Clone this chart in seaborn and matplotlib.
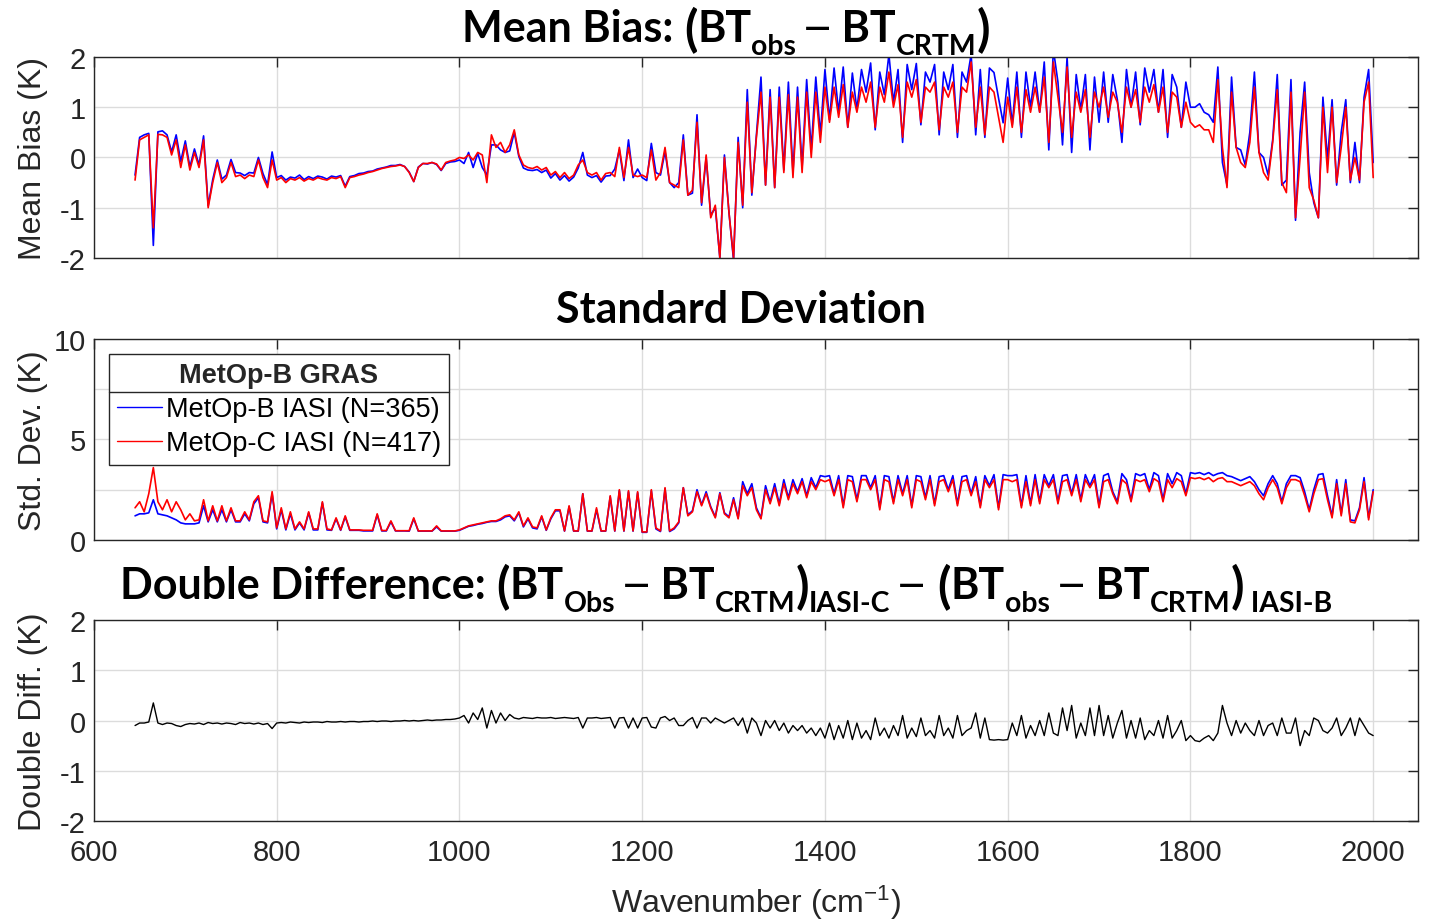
import numpy as np
import pandas as pd
import matplotlib
matplotlib.use('Agg')
import matplotlib.pyplot as plt
import seaborn as sns
from matplotlib.lines import Line2D

sns.set_theme(style='white')
plt.rcParams['font.family'] = ['Liberation Sans', 'DejaVu Sans']
plt.rcParams['axes.unicode_minus'] = False
plt.rcParams['mathtext.fontset'] = 'custom'
plt.rcParams['mathtext.rm'] = 'Liberation Sans'
plt.rcParams['mathtext.it'] = 'Liberation Sans:italic'
plt.rcParams['mathtext.bf'] = 'Liberation Sans:bold'

TITLE_FONT = 'Lato'
INK = '#262626'

# --- data: one value every 5 cm-1 from 645 to 2000 cm-1 ---
wavenumber = np.arange(645, 2001, 5)

# mean bias of MetOp-C IASI (K)
bias_c = [
    -0.45, 0.35, 0.40, 0.45, -1.40, 0.46, 0.45, 0.40, 0.05, 0.35,      # 645
    -0.20, 0.25, -0.25, 0.10, -0.20, 0.35, -1.00, -0.50, -0.10, -0.50,  # 695
    -0.40, -0.10, -0.38, -0.35, -0.42, -0.35, -0.38, -0.05, -0.40, -0.60,  # 745
    -0.05, -0.45, -0.40, -0.50, -0.42, -0.45, -0.40, -0.47, -0.42, -0.45,  # 795
    -0.40, -0.43, -0.45, -0.40, -0.42, -0.38, -0.60, -0.40, -0.38, -0.35,  # 845
    -0.33, -0.30, -0.28, -0.25, -0.22, -0.20, -0.18, -0.17, -0.15, -0.18,  # 895
    -0.30, -0.48, -0.20, -0.12, -0.12, -0.10, -0.13, -0.25, -0.10, -0.07,  # 945
    -0.05, 0.00, -0.02, 0.05, -0.05, 0.10, 0.05, -0.50, 0.45, 0.20,     # 995
    0.30, 0.10, 0.25, 0.55, 0.05, -0.15, -0.20, -0.22, -0.18, -0.25,    # 1045
    -0.20, -0.35, -0.28, -0.40, -0.30, -0.42, -0.35, -0.15, -0.05, -0.30,  # 1095
    -0.35, -0.30, -0.45, -0.32, -0.30, -0.38, 0.20, -0.40, 0.20, -0.35,  # 1145
    -0.38, -0.35, -0.40, 0.15, -0.45, -0.30, 0.20, -0.50, -0.55, -0.60,  # 1195
    0.35, -0.75, -0.65, 0.70, -0.90, 0.05, -1.20, -0.95, -2.00, 0.00,   # 1245
    -1.10, -2.00, 0.30, -0.95, 1.10, -0.70, 0.40, 1.30, -0.55, 1.20,    # 1295
    -0.60, 1.20, -0.30, 1.25, -0.40, 1.20, -0.30, 1.30, 0.00, 1.30,     # 1345
    0.30, 1.40, 0.70, 1.40, 0.80, 1.45, 0.60, 1.30, 0.90, 1.40,         # 1395
    1.10, 1.50, 0.60, 1.40, 1.10, 1.70, 1.00, 1.45, 0.40, 1.50,         # 1445
    1.20, 1.55, 0.70, 1.40, 1.30, 1.50, 0.55, 1.40, 1.20, 1.50,         # 1495
    0.50, 1.40, 1.30, 1.90, 0.60, 1.40, 0.45, 1.40, 1.30, 0.80,         # 1545
    0.30, 1.20, 0.60, 1.40, 0.50, 1.35, 0.90, 1.40, 0.90, 1.60,         # 1595
    0.30, 1.90, 1.20, 0.50, 1.80, 0.40, 1.30, 0.90, 1.35, 0.40,         # 1645
    1.30, 1.00, 1.40, 0.80, 1.30, 1.10, 0.50, 1.40, 1.00, 1.35,         # 1695
    0.70, 1.40, 1.10, 1.45, 0.90, 1.40, 0.50, 1.30, 1.20, 0.60,         # 1745
    1.10, 0.70, 0.60, 0.65, 0.55, 0.55, 0.30, 1.55, 0.20, -0.60,        # 1795
    1.30, 0.20, -0.10, -0.20, 0.30, 1.40, 0.10, -0.30, -0.45, 0.30,     # 1845
    1.35, -0.50, -0.70, 1.30, -1.20, 0.00, 1.30, -0.60, -0.85, -1.20,   # 1895
    1.00, -0.30, 1.00, -0.50, 0.20, 1.00, -0.45, 0.00, -0.45, 1.10,     # 1945
    1.50, -0.40,                                                        # 1995
]

# double difference (IASI-C minus IASI-B) (K)
double_diff = [
    -0.10, -0.05, -0.05, -0.03, 0.35, -0.05, -0.08, -0.05, -0.06, -0.10,  # 645
    -0.12, -0.08, -0.06, -0.07, -0.05, -0.08, -0.04, -0.06, -0.05, -0.07,  # 695
    -0.05, -0.06, -0.08, -0.04, -0.06, -0.05, -0.07, -0.05, -0.08, -0.06,  # 745
    -0.16, -0.05, -0.04, -0.05, -0.03, -0.04, -0.05, -0.03, -0.04, -0.03,  # 795
    -0.03, -0.04, -0.02, -0.03, -0.03, -0.02, -0.03, -0.02, -0.02, -0.03,  # 845
    -0.02, -0.02, -0.01, -0.02, -0.01, -0.01, -0.02, -0.01, -0.01, 0.00,   # 895
    -0.01, 0.00, -0.01, 0.00, 0.01, 0.00, 0.01, 0.01, 0.02, 0.02,          # 945
    0.03, 0.05, 0.10, -0.05, 0.15, 0.02, 0.25, -0.15, 0.20, -0.05,         # 995
    0.15, 0.00, 0.12, 0.05, 0.03, 0.06, 0.05, 0.04, 0.06, 0.05,            # 1045
    0.05, 0.06, 0.04, 0.05, 0.06, 0.05, 0.04, 0.06, -0.15, 0.05,           # 1095
    0.05, 0.06, 0.04, 0.05, 0.06, -0.15, 0.05, 0.06, -0.15, 0.05,          # 1145
    -0.15, 0.05, 0.06, -0.13, -0.15, 0.05, 0.08, 0.00, 0.05, -0.10,        # 1195
    -0.10, 0.00, 0.06, -0.15, 0.05, 0.05, -0.05, 0.05, 0.00, -0.05,        # 1245
    0.00, 0.05, -0.10, 0.05, -0.25, 0.05, -0.05, -0.30, 0.00, -0.15,       # 1295
    0.00, -0.20, -0.05, -0.25, -0.10, -0.20, -0.10, -0.25, -0.15, -0.30,   # 1345
    -0.15, -0.35, -0.05, -0.38, -0.10, -0.35, 0.00, -0.38, -0.05, -0.35,   # 1395
    -0.20, -0.38, 0.05, -0.30, -0.15, -0.35, -0.10, -0.30, 0.10, -0.35,    # 1445
    -0.15, -0.32, 0.05, -0.30, -0.20, -0.35, 0.10, -0.30, -0.15, -0.35,    # 1495
    0.10, -0.30, -0.20, -0.15, 0.15, -0.35, 0.05, -0.38, -0.39, -0.38,     # 1545
    -0.39, -0.38, -0.05, -0.30, 0.10, -0.35, -0.10, -0.30, 0.00, -0.30,    # 1595
    0.15, -0.25, -0.30, 0.25, -0.20, 0.30, -0.35, -0.05, -0.30, 0.25,      # 1645
    -0.30, 0.30, -0.30, 0.10, -0.35, -0.05, 0.20, -0.35, 0.00, -0.35,      # 1695
    0.05, -0.38, -0.20, -0.30, 0.00, -0.35, 0.10, -0.35, -0.20, 0.00,      # 1745
    -0.40, -0.30, -0.40, -0.42, -0.35, -0.30, -0.40, -0.25, 0.30, -0.05,   # 1795
    -0.30, 0.00, -0.25, -0.05, -0.20, -0.30, 0.00, -0.30, -0.10, -0.05,    # 1845
    -0.30, 0.05, -0.25, -0.25, 0.05, -0.50, -0.20, -0.30, 0.05, 0.00,      # 1895
    -0.20, -0.25, -0.15, 0.05, -0.30, -0.15, 0.05, -0.30, 0.05, -0.10,     # 1945
    -0.25, -0.30,                                                          # 1995
]

# standard deviation, MetOp-C IASI (K)
std_c = [
    1.6, 1.9, 1.4, 2.3, 3.6, 1.9, 1.5, 2.0, 1.4, 1.9,          # 645
    1.5, 1.0, 1.3, 0.95, 1.0, 2.0, 0.95, 1.7, 0.95, 1.7,       # 695
    0.95, 1.6, 0.95, 0.95, 1.4, 1.0, 1.9, 2.2, 0.95, 0.9,      # 745
    2.4, 0.6, 1.6, 0.55, 1.4, 0.55, 0.9, 0.55, 1.4, 0.55,      # 795
    0.55, 1.9, 0.55, 0.5, 1.1, 0.5, 1.2, 0.5, 0.5, 0.5,        # 845
    0.48, 0.48, 0.48, 1.3, 0.47, 0.47, 0.95, 0.46, 0.46, 0.46,  # 895
    0.46, 1.1, 0.45, 0.45, 0.45, 0.45, 0.7, 0.45, 0.45, 0.45,  # 945
    0.45, 0.5, 0.6, 0.7, 0.75, 0.8, 0.85, 0.9, 0.95, 0.95,     # 995
    1.05, 1.2, 1.25, 1.0, 1.4, 0.7, 1.1, 0.65, 0.6, 1.2,       # 1045
    0.5, 1.1, 1.5, 1.5, 0.45, 1.7, 0.45, 0.45, 2.3, 0.45,      # 1095
    0.45, 1.6, 0.45, 0.45, 2.2, 0.45, 2.5, 0.45, 2.45, 0.45,   # 1145
    2.4, 0.4, 0.4, 2.5, 0.6, 0.45, 2.6, 0.45, 0.6, 0.9,        # 1195
    2.6, 1.2, 1.4, 2.4, 1.7, 2.3, 1.6, 1.1, 2.3, 1.3,          # 1245
    1.1, 2.0, 1.05, 2.7, 2.2, 2.6, 1.5, 1.05, 2.5, 1.8,        # 1295
    2.6, 1.7, 2.8, 2.0, 2.8, 2.3, 2.9, 2.1, 2.9, 2.5,          # 1345
    3.0, 2.9, 3.0, 2.2, 3.0, 1.6, 3.0, 2.9, 1.9, 3.0,          # 1395
    3.0, 2.5, 3.0, 1.5, 3.0, 2.9, 1.8, 3.0, 2.2, 3.0,          # 1445
    1.6, 3.0, 2.9, 2.0, 3.0, 1.7, 2.9, 3.0, 2.4, 3.0,          # 1495
    1.7, 2.9, 3.0, 2.2, 2.9, 1.6, 3.0, 2.6, 3.0, 1.5,          # 1545
    3.0, 3.0, 2.9, 3.0, 1.6, 2.9, 1.7, 3.0, 1.8, 3.0,          # 1595
    2.6, 3.0, 1.8, 2.9, 3.0, 2.2, 3.0, 1.9, 3.0, 2.6,          # 1645
    3.0, 1.6, 2.9, 3.0, 2.3, 1.8, 3.0, 2.8, 1.9, 3.0,          # 1695
    2.9, 3.0, 2.4, 3.05, 2.9, 1.9, 3.0, 2.6, 3.05, 2.9,        # 1745
    2.2, 3.1, 3.05, 3.1, 3.0, 3.1, 2.9, 3.05, 3.1, 2.9,        # 1795
    2.9, 2.8, 2.7, 2.8, 2.9, 2.7, 2.3, 2.0, 2.6, 3.0,          # 1845
    2.6, 1.8, 2.6, 3.0, 3.0, 2.9, 2.2, 1.4, 2.3, 3.0,          # 1895
    3.05, 2.0, 1.1, 2.8, 1.2, 2.8, 0.9, 0.85, 1.5, 2.9,        # 1945
    1.0, 2.4,                                                  # 1995
]

# standard deviation, MetOp-B IASI (K)
std_b = [
    1.2, 1.3, 1.3, 1.35, 2.0, 1.3, 1.25, 1.2, 1.1, 1.0,        # 645
    0.85, 0.8, 0.8, 0.8, 0.85, 1.7, 0.9, 1.5, 0.9, 1.5,        # 695
    0.9, 1.5, 0.9, 0.9, 1.3, 0.95, 1.8, 2.1, 0.9, 0.85,        # 745
    2.3, 0.55, 1.5, 0.5, 1.3, 0.5, 0.85, 0.5, 1.35, 0.5,       # 795
    0.5, 1.85, 0.5, 0.48, 1.05, 0.48, 1.15, 0.48, 0.48, 0.48,  # 845
    0.45, 0.45, 0.45, 1.25, 0.45, 0.45, 0.9, 0.45, 0.45, 0.45,  # 895
    0.44, 1.05, 0.44, 0.44, 0.44, 0.44, 0.65, 0.44, 0.44, 0.44,  # 945
    0.44, 0.48, 0.58, 0.68, 0.72, 0.78, 0.82, 0.88, 0.92, 0.92,  # 995
    1.0, 1.15, 1.2, 0.95, 1.35, 0.65, 1.05, 0.6, 0.55, 1.15,   # 1045
    0.48, 1.05, 1.45, 1.45, 0.44, 1.65, 0.44, 0.44, 2.3, 0.44,  # 1095
    0.44, 1.5, 0.44, 0.44, 2.15, 0.44, 2.45, 0.44, 2.4, 0.44,  # 1145
    2.35, 0.38, 0.38, 2.45, 0.55, 0.42, 2.55, 0.42, 0.55, 0.85,  # 1195
    2.6, 1.25, 1.45, 2.5, 1.75, 2.4, 1.65, 1.15, 2.35, 1.35,   # 1245
    1.15, 2.1, 1.1, 2.9, 2.3, 2.8, 1.6, 1.1, 2.7, 1.9,         # 1295
    2.8, 1.8, 3.0, 2.1, 3.0, 2.4, 3.05, 2.2, 3.1, 2.6,         # 1345
    3.2, 3.15, 3.2, 2.3, 3.2, 1.7, 3.2, 3.15, 2.0, 3.2,        # 1395
    3.2, 2.6, 3.2, 1.6, 3.2, 3.15, 1.9, 3.2, 2.3, 3.2,         # 1445
    1.7, 3.2, 3.15, 2.1, 3.2, 1.8, 3.15, 3.2, 2.5, 3.2,        # 1495
    1.8, 3.15, 3.2, 2.3, 3.15, 1.7, 3.2, 2.7, 3.25, 1.6,       # 1545
    3.25, 3.2, 3.2, 3.25, 1.7, 3.2, 1.8, 3.25, 1.9, 3.25,      # 1595
    2.7, 3.25, 1.9, 3.2, 3.25, 2.3, 3.25, 2.0, 3.25, 2.7,      # 1645
    3.25, 1.7, 3.2, 3.3, 2.4, 1.9, 3.3, 3.0, 2.0, 3.3,         # 1695
    3.2, 3.3, 2.5, 3.35, 3.2, 2.0, 3.3, 2.8, 3.35, 3.2,        # 1745
    2.3, 3.35, 3.3, 3.35, 3.25, 3.35, 3.2, 3.3, 3.35, 3.2,     # 1795
    3.15, 3.05, 2.95, 3.05, 3.15, 2.9, 2.5, 2.2, 2.8, 3.2,     # 1845
    2.8, 1.9, 2.8, 3.2, 3.2, 3.1, 2.4, 1.5, 2.5, 3.25,         # 1895
    3.3, 2.2, 1.2, 3.0, 1.3, 3.0, 1.0, 0.95, 1.6, 3.1,         # 1945
    1.1, 2.5,                                                  # 1995
]

label_b = 'MetOp-B IASI (N=365)'
label_c = 'MetOp-C IASI (N=417)'
legend_title = 'MetOp-B GRAS'

# the double difference is C minus B, so B bias follows from C bias
df = pd.DataFrame({
    'wn': wavenumber,
    'bias_c': bias_c,
    'dd': double_diff,
    'std_c': std_c,
    'std_b': std_b,
})
df['bias_b'] = df['bias_c'] - df['dd']

W, H = 1432, 920
fig = plt.figure(figsize=(W / 100, H / 100), dpi=100)
ax1 = fig.add_axes([0.0656, 0.7185, 0.9246, 0.2185])
ax2 = fig.add_axes([0.0656, 0.4120, 0.9246, 0.2185])
ax3 = fig.add_axes([0.0656, 0.1065, 0.9246, 0.2185])

lw = 1.2
sns.lineplot(data=df, x='wn', y='bias_b', color='#0000ff', lw=lw, ax=ax1, estimator=None, sort=False)
sns.lineplot(data=df, x='wn', y='bias_c', color='#ff0000', lw=lw, ax=ax1, estimator=None, sort=False)
sns.lineplot(data=df, x='wn', y='std_b', color='#0000ff', lw=lw, ax=ax2, estimator=None, sort=False, label=label_b)
sns.lineplot(data=df, x='wn', y='std_c', color='#ff0000', lw=lw, ax=ax2, estimator=None, sort=False, label=label_c)
sns.lineplot(data=df, x='wn', y='dd', color='black', lw=1.0, ax=ax3, estimator=None, sort=False)


def style_axes(ax, ylim, yticks, yticklabels, ylabel, show_x):
    ax.set_xlim(600, 2049)
    ax.set_ylim(*ylim)
    ax.set_xticks(np.arange(600, 2001, 200))
    ax.set_yticks(yticks)
    ax.set_yticklabels(yticklabels)
    ax.grid(True, color='#dcdcdc', lw=1.0)
    ax.set_axisbelow(True)
    for s in ax.spines.values():
        s.set_color(INK)
        s.set_linewidth(1.0)
        s.set_visible(True)
    ax.tick_params(axis='both', direction='in', length=7, width=1.0, color=INK,
                   labelcolor=INK, labelsize=21, top=True, right=True)
    ax.tick_params(axis='y', pad=6)
    ax.tick_params(axis='x', pad=12)
    if not show_x:
        ax.tick_params(axis='x', labelbottom=False)
    ax.set_xlabel('')
    ax.set_ylabel(ylabel, fontsize=23, color=INK)
    ax.yaxis.set_label_coords(-0.035, 0.5)


style_axes(ax1, (-2, 2), [-2, -1, 0, 1, 2], ['-2', '-1', '0', '1', '2'], 'Mean Bias (K)', False)
style_axes(ax2, (0, 10), [0, 2.5, 5, 7.5, 10], ['0', '', '5', '', '10'], 'Std. Dev. (K)', False)
style_axes(ax3, (-2, 2), [-2, -1, 0, 1, 2], ['-2', '-1', '0', '1', '2'], 'Double Diff. (K)', True)
ax3.set_xlabel(r'Wavenumber (cm$^{-1}$)', fontsize=23, color=INK)
ax3.xaxis.set_label_coords(0.5, -0.305)

leg = ax2.legend(loc='upper left', bbox_to_anchor=(0.0113, 0.925), title=legend_title,
                 fontsize=19.5, title_fontproperties={'weight': 'bold', 'size': 19.5},
                 frameon=True, fancybox=False, edgecolor=INK, framealpha=1,
                 borderaxespad=0, borderpad=0.3, handlelength=1.65,
                 handletextpad=0.15, labelspacing=0.3)
leg.get_frame().set_linewidth(1.0)
for t in leg.get_texts():
    t.set_color('black')
for h in leg.legend_handles:
    h.set_linewidth(1.0)


def rich_title(cx, base, parts, size=31):
    # parts: (text, scale, drop in em) placed side by side, centred on cx (pixels)
    r = fig.canvas.get_renderer()
    items = []
    total = 0.0
    for s, scale, drop in parts:
        t = fig.text(0, 0, s, fontsize=size * scale, fontweight='bold',
                     family=TITLE_FONT, va='baseline', ha='left', color='black')
        w = t.get_window_extent(r).width
        items.append((t, w, drop * size * 100 / 72))
        total += w
    x = cx - total / 2
    for t, w, dy in items:
        t.set_position((x / W, 1 - (base + dy) / H))
        x += w


SUB = 0.66
P = 1.15
DASH = (' \u2014', 0.78, -0.06)
rich_title(726, 42, [
    ('Mean Bias: ', 1, 0), ('(', P, 0.1), ('BT', 1, 0), ('obs', SUB, 0.3),
    DASH, (' BT', 1, 0), ('CRTM', SUB, 0.3), (')', P, 0.1)])
rich_title(741, 323, [('Standard Deviation', 1, 0)])
rich_title(726, 599, [
    ('Double Difference: ', 1, 0), ('(', P, 0.1), ('BT', 1, 0), ('Obs', SUB, 0.3),
    DASH, (' BT', 1, 0), ('CRTM', SUB, 0.3), (')', P, 0.1), ('IASI-C', SUB, 0.3),
    DASH, (' (', P, 0.1), ('BT', 1, 0), ('obs', SUB, 0.3),
    DASH, (' BT', 1, 0), ('CRTM', SUB, 0.3), (')', P, 0.1), (' IASI-B', SUB, 0.3)])

# separator line under the legend title, as in the original
fig.canvas.draw()
r = fig.canvas.get_renderer()
lb = leg.get_window_extent(r)
tb = leg.get_title().get_window_extent(r)
ysep = tb.y0 - 4
fig.add_artist(Line2D([lb.x0 / W, lb.x1 / W], [ysep / H, ysep / H],
                      transform=fig.transFigure, color=INK, lw=1.0))

fig.savefig('out.png', dpi=100)
